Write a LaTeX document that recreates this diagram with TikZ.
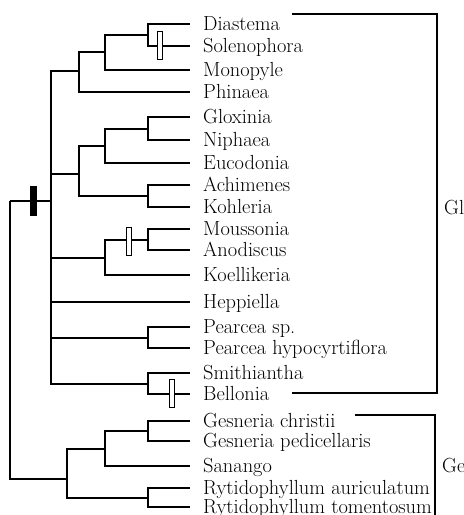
\documentclass[tikz,border=0pt]{standalone}
\usetikzlibrary{positioning}
\begin{document}
\begin{tikzpicture}[x=1pt,y=-1pt,
  br/.style={line width=1.8pt},
  bk/.style={line width=1.5pt},
  tx/.style={anchor=base west,inner sep=0pt,font=\fontsize{20.4}{22}\selectfont},
  hb/.style={draw,line width=0.9pt,fill=white,minimum width=5pt,minimum height=28pt,inner sep=0pt},
  fb/.style={fill=black,minimum width=7pt,minimum height=30pt,inner sep=0pt}]
\useasboundingbox (0,0) rectangle (464,515);
\foreach \n/\y/\t in {dia/24/Diastema, sol/46/Solenophora, mon/70/Monopyle,
    phi/92/Phinaea, glo/117/Gloxinia, nip/140/Niphaea, euc/163/Eucodonia,
    ach/185/Achimenes, koh/207/Kohleria, mou/229/Moussonia, ano/250/Anodiscus,
    koe/275/Koellikeria, hep/302/Heppiella, pes/327/Pearcea sp.,
    peh/348/Pearcea hypocyrtiflora, smi/373/Smithiantha, bel/394/Bellonia,
    gec/421/Gesneria christii, gep/441/Gesneria pedicellaris, san/466/Sanango,
    rya/488/Rytidophyllum auriculatum, ryt/507/Rytidophyllum tomentosum}{
  \coordinate (t\n) at (190,\y);
  \node[tx] (\n) at ([xshift=13pt,yshift=-6pt]t\n) {\t};
}
\coordinate (root) at (10,201);
\coordinate (gl) at (51,201);
\coordinate (ge) at (67,479);
\coordinate (a) at (79,71);
\coordinate (a1) at (105,52);
\coordinate (a2) at (148,35);
\coordinate (b) at (79,174);
\coordinate (b1) at (105,146);
\coordinate (b2) at (148,129);
\coordinate (b3) at (148,196);
\coordinate (c) at (105,258);
\coordinate (c1) at (148,240);
\coordinate (d) at (148,338);
\coordinate (e) at (148,384);
\coordinate (f) at (105,449);
\coordinate (f1) at (148,431);
\coordinate (g) at (148,498);
\foreach \p/\c in {root/gl, root/ge, gl/a, gl/b, gl/c, gl/thep, gl/d, gl/e,
    a/a1, a/tphi, a1/a2, a1/tmon, a2/tdia, a2/tsol, b/b1, b/b3, b1/b2, b1/teuc,
    b2/tglo, b2/tnip, b3/tach, b3/tkoh, c/c1, c/tkoe, c1/tmou, c1/tano,
    d/tpes, d/tpeh, e/tsmi, e/tbel, ge/f, ge/g, f/f1, f/tsan, f1/tgec, f1/tgep,
    g/trya, g/tryt}
  \draw[br] (\p) |- (\c);
\node[fb] (s1) at (33.5,201) {};
\node[hb] (s2) at (159.5,45.5) {};
\node[hb] (s3) at (128.5,241) {};
\node[hb] (s4) at (171.5,393.5) {};
\coordinate (gltop) at (292,14);
\coordinate (glmid) at (437,212);
\coordinate (glbot) at (292,393);
\node[tx,anchor=mid west] (gll) at ([xshift=7pt]glmid) {Gl};
\draw[bk] (gltop) -| (glmid) |- (glbot);
\coordinate (getop) at (355,415);
\coordinate (gemid) at (435,470);
\coordinate (geend) at (435,515);
\node[tx,anchor=mid west] (gel) at ([xshift=7pt]gemid) {Ge};
\draw[bk] (getop) -| (gemid) -- (geend);
\end{tikzpicture}
\end{document}
